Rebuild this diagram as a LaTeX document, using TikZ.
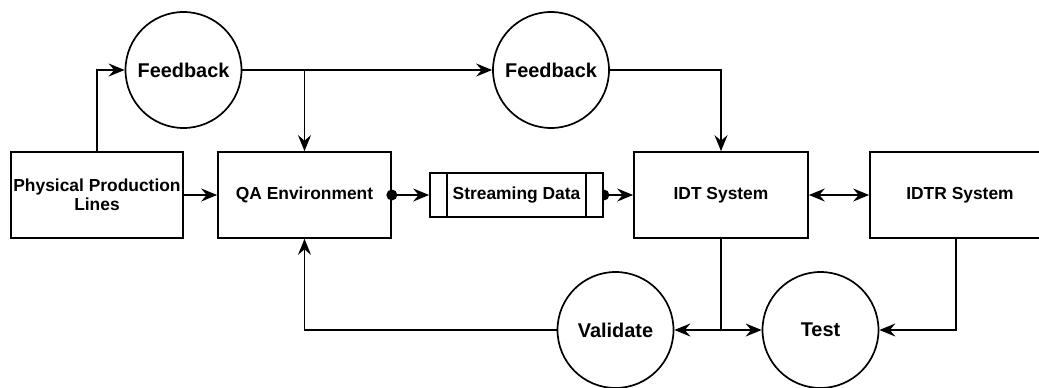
\documentclass[tikz,border=0pt]{standalone}
\usepackage{fontspec}
\setmainfont{Liberation Sans}
\usetikzlibrary{arrows.meta,backgrounds}

\pgfdeclarelayer{canvas}
\pgfsetlayers{canvas,background,main}

\tikzset{
  base/.style={draw, line width=1.7pt, fill=white, inner sep=0pt, align=center,
    font=\bfseries\fontsize{17.4}{19.5}\selectfont},
  box/.style={base, rectangle, minimum width=#1, minimum height=86pt},
  round/.style={base, circle, minimum size=116pt,
    font=\bfseries\fontsize{19.9}{22}\selectfont},
  stream/.style={base, rectangle, minimum width=173pt, minimum height=44pt,
    path picture={
      \draw[line width=1.7pt]
        ([xshift=17pt]path picture bounding box.north west) --
        ([xshift=17pt]path picture bounding box.south west)
        ([xshift=-17pt]path picture bounding box.north east) --
        ([xshift=-17pt]path picture bounding box.south east);
    }},
  tip/.tip={Stealth[length=16pt, width=13pt, inset=5.5pt]},
  link/.style={line width=1.7pt},
  arr/.style={link, -tip},
  biarr/.style={link, tip-tip},
  dot/.style={fill=black, draw=none}
}

\begin{document}
\begin{tikzpicture}[x=1pt, y=-1pt]
  \useasboundingbox (0,0) rectangle (1039,388);
  \begin{pgfonlayer}{canvas}
    \fill[white] (0,0) rectangle (1039,388);
  \end{pgfonlayer}

  % process boxes
  \node[box=172pt] (ppl)  at (97,195)    {Physical Production\\Lines};
  \node[box=173pt] (qa)   at (304.5,195) {QA Environment};
  \node[stream]    (sd)   at (516.5,195) {Streaming Data};
  \node[box=174pt] (idt)  at (721,195)   {IDT System};
  \node[box=180pt] (idtr) at (960,195)   {IDTR System};

  % circular steps
  \node[round] (fb1)  at (183.5,70)  {Feedback};
  \node[round] (fb2)  at (551,70)    {Feedback};
  \node[round] (val)  at (615.5,330) {Validate};
  \node[round] (test) at (820.5,330) {Test};

  \coordinate (split) at (idt.south |- val.east);
  \coordinate (idtrdown) at ([xshift=-4pt]idtr.south);

  \begin{scope}[on background layer]
    \draw[arr] (ppl.north) |- (fb1.west);
    \draw[arr] (fb1.east) -- (fb2.west);
    \draw[arr] (fb1.east -| qa.north) -- (qa.north);
    \draw[arr] (fb2.east) -| (idt.north);
    \draw[arr] (ppl.east) -- (qa.west);
    \draw[arr] (qa.east) -- (sd.west);
    \draw[arr] (sd.east) -- (idt.west);
    \fill[dot] (sd.east) circle (5.5pt);
    \draw[biarr] (idt.east) -- (idtr.west);
    \draw[link] (idt.south) -- (split);
    \draw[arr] (split) -- (val.east);
    \draw[arr] (split) -- (test.west);
    \draw[arr] (val.west) -| (qa.south);
    \draw[arr] (idtrdown) |- (test.east);
  \end{scope}

  \fill[dot] (qa.east) circle (5.5pt);
\end{tikzpicture}
\end{document}
